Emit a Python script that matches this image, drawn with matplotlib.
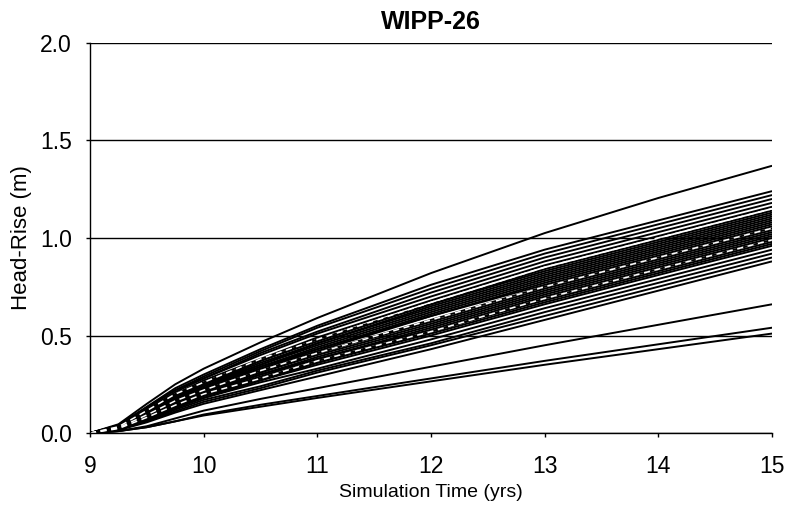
import matplotlib
matplotlib.use("Agg")
import matplotlib.pyplot as plt

plt.rcParams['font.family'] = ['Liberation Sans', 'DejaVu Sans']

# Simulation times (yrs) at which each realization was read
times = [9, 9.25, 9.5, 9.75, 10, 10.5, 11, 12, 13, 14, 15]

# Head-rise (m) realizations, black solid lines
realizations = [
    [0, 0.045, 0.15, 0.25, 0.33, 0.465, 0.59, 0.82, 1.025, 1.205, 1.37],
    [0, 0.04, 0.135, 0.23, 0.30, 0.43, 0.55, 0.76, 0.94, 1.09, 1.24],
    [0, 0.04, 0.13, 0.22, 0.29, 0.42, 0.54, 0.74, 0.92, 1.07, 1.22],
    [0, 0.04, 0.13, 0.22, 0.28, 0.41, 0.52, 0.72, 0.90, 1.05, 1.20],
    [0, 0.035, 0.12, 0.21, 0.28, 0.40, 0.51, 0.70, 0.88, 1.03, 1.18],
    [0, 0.035, 0.12, 0.20, 0.27, 0.38, 0.49, 0.68, 0.86, 1.01, 1.16],
    [0, 0.03, 0.11, 0.195, 0.26, 0.37, 0.48, 0.66, 0.84, 0.99, 1.14],
    [0, 0.03, 0.11, 0.19, 0.25, 0.37, 0.47, 0.66, 0.83, 0.98, 1.13],
    [0, 0.03, 0.11, 0.19, 0.25, 0.36, 0.46, 0.65, 0.82, 0.97, 1.12],
    [0, 0.03, 0.105, 0.185, 0.25, 0.35, 0.46, 0.64, 0.81, 0.96, 1.11],
    [0, 0.03, 0.10, 0.18, 0.24, 0.35, 0.45, 0.63, 0.80, 0.95, 1.10],
    [0, 0.03, 0.10, 0.18, 0.24, 0.34, 0.44, 0.62, 0.79, 0.94, 1.09],
    [0, 0.03, 0.10, 0.175, 0.23, 0.34, 0.43, 0.61, 0.78, 0.93, 1.08],
    [0, 0.03, 0.097, 0.17, 0.23, 0.33, 0.43, 0.60, 0.77, 0.92, 1.07],
    [0, 0.028, 0.095, 0.17, 0.23, 0.33, 0.42, 0.60, 0.76, 0.91, 1.06],
    [0, 0.027, 0.093, 0.165, 0.22, 0.32, 0.41, 0.58, 0.75, 0.90, 1.05],
    [0, 0.026, 0.09, 0.16, 0.22, 0.31, 0.41, 0.57, 0.74, 0.89, 1.04],
    [0, 0.025, 0.088, 0.157, 0.21, 0.31, 0.40, 0.56, 0.73, 0.88, 1.03],
    [0, 0.025, 0.086, 0.155, 0.21, 0.30, 0.39, 0.55, 0.72, 0.87, 1.02],
    [0, 0.024, 0.084, 0.15, 0.20, 0.30, 0.38, 0.54, 0.71, 0.86, 1.01],
    [0, 0.023, 0.082, 0.147, 0.20, 0.29, 0.38, 0.53, 0.70, 0.85, 1.00],
    [0, 0.023, 0.08, 0.143, 0.20, 0.28, 0.37, 0.52, 0.69, 0.84, 0.99],
    [0, 0.022, 0.077, 0.14, 0.19, 0.28, 0.36, 0.52, 0.68, 0.83, 0.98],
    [0, 0.021, 0.075, 0.136, 0.19, 0.27, 0.36, 0.51, 0.67, 0.82, 0.97],
    [0, 0.021, 0.073, 0.133, 0.18, 0.27, 0.35, 0.50, 0.66, 0.81, 0.96],
    [0, 0.019, 0.068, 0.126, 0.18, 0.26, 0.33, 0.48, 0.64, 0.79, 0.94],
    [0, 0.018, 0.064, 0.12, 0.17, 0.24, 0.32, 0.46, 0.62, 0.77, 0.92],
    [0, 0.016, 0.06, 0.112, 0.16, 0.23, 0.31, 0.45, 0.60, 0.75, 0.90],
    [0, 0.015, 0.055, 0.105, 0.15, 0.22, 0.29, 0.43, 0.58, 0.73, 0.88],
    [0, 0.01, 0.035, 0.075, 0.115, 0.175, 0.23, 0.34, 0.45, 0.555, 0.66],
    [0, 0.01, 0.03, 0.06, 0.095, 0.145, 0.19, 0.28, 0.37, 0.455, 0.54],
    [0, 0.01, 0.03, 0.06, 0.09, 0.135, 0.18, 0.265, 0.35, 0.43, 0.51],
]

# Realizations drawn as light dashed lines inside the bundle
dashed_realizations = [
    [0, 0.032, 0.115, 0.20, 0.26, 0.38, 0.48, 0.67, 0.85, 1.00, 1.15],
    [0, 0.027, 0.093, 0.165, 0.22, 0.32, 0.41, 0.58, 0.75, 0.90, 1.05],
    [0, 0.023, 0.08, 0.143, 0.20, 0.28, 0.37, 0.52, 0.69, 0.84, 0.99],
]

x_ticks = [9, 10, 11, 12, 13, 14, 15]
y_ticks = [0.0, 0.5, 1.0, 1.5, 2.0]
y_tick_labels = ['0.0', '0.5', '1.0', '1.5', '2.0']

fig = plt.figure(figsize=(7.87, 5.23), dpi=100)
ax = fig.add_axes([0.1144, 0.172, 0.8666, 0.746])

for ys in realizations:
    ax.plot(times, ys, color='black', lw=1.4, solid_capstyle='butt', solid_joinstyle='round')
for ys in dashed_realizations:
    ax.plot(times, ys, color='white', lw=1.1, linestyle=(0, (4, 3)))

ax.set_xlim(9, 15)
ax.set_ylim(0, 2.0)
ax.set_xticks(x_ticks)
ax.set_yticks(y_ticks)
ax.set_yticklabels(y_tick_labels)
ax.yaxis.grid(True, color='black', lw=1.0)
ax.set_axisbelow(True)

for s in ['top', 'right']:
    ax.spines[s].set_visible(False)
ax.spines['left'].set_linewidth(1.0)
ax.spines['bottom'].set_linewidth(1.0)

ax.tick_params(axis='both', direction='out', length=3, width=1.0, labelsize=16.5, colors='black')
ax.tick_params(axis='x', pad=13)
ax.tick_params(axis='y', pad=10)

ax.set_xlabel('Simulation Time (yrs)', fontsize=14, labelpad=4)
ax.set_ylabel('Head-Rise (m)', fontsize=16)
ax.yaxis.set_label_coords(-0.085, 0.5)
ax.set_title('WIPP-26', fontsize=18, fontweight='bold', pad=10)

fig.savefig('out.png', dpi=100)
